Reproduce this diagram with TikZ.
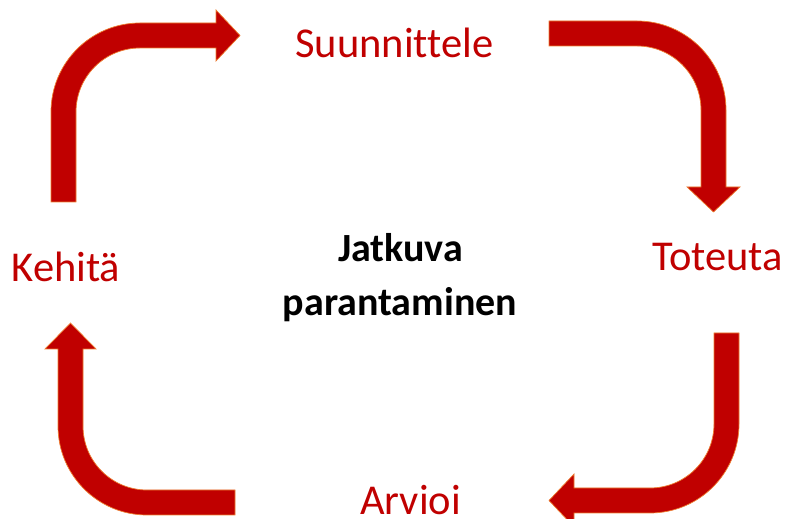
\documentclass[tikz,border=0pt]{standalone}
\usepackage{fontspec}
\setmainfont[RawFeature=-liga]{Carlito}
\definecolor{darkred}{HTML}{C00000}
\definecolor{edgeorange}{HTML}{ED7D31}
\begin{document}
\begin{tikzpicture}[x=1pt,y=1pt,
  bentarrow/.style={fill=darkred,draw=edgeorange,line width=0.7pt,line join=miter},
  steplabel/.style={anchor=base,inner sep=0pt,text=darkred,font=\fontsize{42.5}{50}\selectfont},
  centerlabel/.style={anchor=base,inner sep=0pt,text=black,font=\fontsize{40}{48}\selectfont\bfseries}]
\clip (0,0) rectangle (787,519);
\useasboundingbox (0,0) rectangle (787,519);
% top-left arrow (Kehitä -> Suunnittele)
\draw[bentarrow] (51,317) -- (51,407) arc[start angle=180,end angle=90,radius=89]
  -- (216,496) -- (216,509) -- (240,483.5) -- (216,458) -- (216,471) -- (140,471)
  arc[start angle=90,end angle=180,radius=64] -- (76,317) -- cycle;
% top-right arrow (Suunnittele -> Toteuta)
\draw[bentarrow] (549,498) -- (637,498) arc[start angle=90,end angle=0,radius=89]
  -- (726,332) -- (740,332) -- (713.5,307) -- (687,332) -- (701,332) -- (701,409)
  arc[start angle=0,end angle=90,radius=64] -- (549,473) -- cycle;
% bottom-right arrow (Toteuta -> Arvioi)
\draw[bentarrow] (739,186) -- (739,95) arc[start angle=0,end angle=-90,radius=89]
  -- (574,6) -- (574,-8) -- (549,18.5) -- (574,45) -- (574,31) -- (650,31)
  arc[start angle=-90,end angle=0,radius=64] -- (714,186) -- cycle;
% bottom-left arrow (Arvioi -> Kehitä)
\draw[bentarrow] (235,4) -- (147,4) arc[start angle=270,end angle=180,radius=89]
  -- (58,170) -- (45,170) -- (70.5,196) -- (96,170) -- (83,170) -- (83,93)
  arc[start angle=180,end angle=270,radius=64] -- (235,29) -- cycle;
% labels
\node[steplabel] (plan) at (394.5,461) {Suunnittele};
\node[steplabel] (do) at (717.5,248) {Toteuta};
\node[steplabel] (check) at (410.5,4) {Arvioi};
\node[steplabel] (act) at (66,237) {Kehitä};
\node[centerlabel] (title1) at (400.5,257) {Jatkuva};
\node[centerlabel] (title2) at (400,203) {parantaminen};
\end{tikzpicture}
\end{document}
